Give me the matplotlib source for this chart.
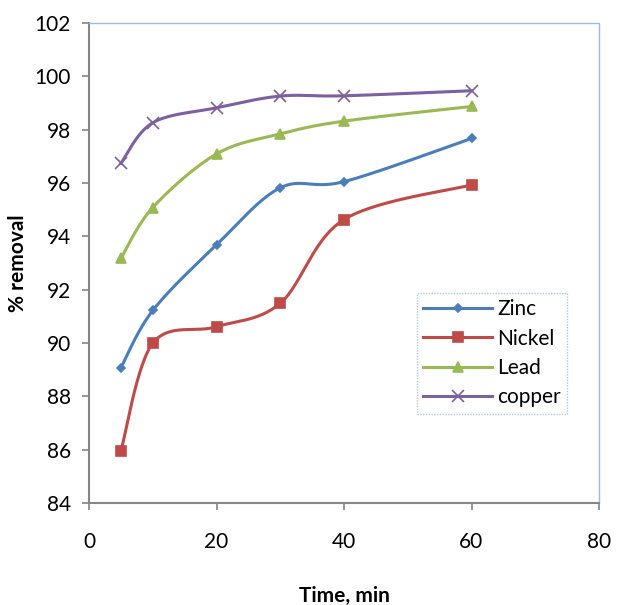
import numpy as np
import matplotlib.pyplot as plt

# data
time = [5, 10, 20, 30, 40, 60]
zinc = [89.07, 91.22, 93.68, 95.82, 96.05, 97.67]
nickel = [85.95, 89.99, 90.61, 91.49, 94.63, 95.93]
lead = [93.17, 95.08, 97.09, 97.84, 98.32, 98.87]
copper = [96.74, 98.26, 98.82, 99.26, 99.27, 99.46]

names = ['Zinc', 'Nickel', 'Lead', 'copper']
colors = ['#4A7EBB', '#BE4B48', '#98B954', '#7D60A0']
markers = ['D', 's', '^', 'x']
msizes = [4.5, 6.5, 6.5, 8]


def smooth(x, y, n=30):
    # Excel-style smoothed line (Catmull-Rom through the points)
    x = np.asarray(x, float)
    y = np.asarray(y, float)
    px = np.concatenate([[x[0]], x, [x[-1]]])
    py = np.concatenate([[y[0]], y, [y[-1]]])
    ox, oy = [], []
    t = np.linspace(0, 1, n)
    for i in range(1, len(px) - 2):
        c1x = px[i] + (px[i + 1] - px[i - 1]) / 6
        c1y = py[i] + (py[i + 1] - py[i - 1]) / 6
        c2x = px[i + 1] - (px[i + 2] - px[i]) / 6
        c2y = py[i + 1] - (py[i + 2] - py[i]) / 6
        b0 = (1 - t) ** 3
        b1 = 3 * (1 - t) ** 2 * t
        b2 = 3 * (1 - t) * t ** 2
        b3 = t ** 3
        ox.extend(b0 * px[i] + b1 * c1x + b2 * c2x + b3 * px[i + 1])
        oy.extend(b0 * py[i] + b1 * c1y + b2 * c2y + b3 * py[i + 1])
    return ox, oy


plt.rcParams['font.family'] = ['Lato', 'DejaVu Sans']

fig = plt.figure(figsize=(6.3, 6.05), dpi=100)
ax = fig.add_axes([89 / 630, 1 - 503 / 605, 510 / 630, 480 / 605])

for vals, name, c, m, ms in zip([zinc, nickel, lead, copper], names, colors, markers, msizes):
    sx, sy = smooth(time, vals)
    ax.plot(sx, sy, color=c, lw=2.2)
    ax.plot(time, vals, linestyle='none', marker=m, color=c, ms=ms, mew=1.2)
    ax.plot([], [], color=c, lw=2.2, marker=m, ms=ms, mew=1.2, label=name)

ax.set_xlim(0, 80)
ax.set_ylim(84, 102)
ax.set_xticks([0, 20, 40, 60, 80])
ax.set_yticks(np.arange(84, 103, 2))

for s in ['left', 'bottom']:
    ax.spines[s].set_color('#868686')
    ax.spines[s].set_linewidth(1.5)
for s in ['top', 'right']:
    ax.spines[s].set_color('#9DB9E0')
    ax.spines[s].set_linewidth(1.0)
    ax.spines[s].set_linestyle((0, (1, 1)))

ax.tick_params(axis='both', direction='out', length=5, width=1.2, color='#868686',
               labelsize=15, pad=8)
ax.tick_params(axis='x', pad=16)

ax.set_xlabel('Time, min', fontsize=15, fontweight='bold', labelpad=24)
ax.set_ylabel('% removal', fontsize=15, fontweight='bold')
ax.yaxis.set_label_coords(-0.139, 0.5)
ax.yaxis.label.set_verticalalignment('center')

leg = ax.legend(loc='upper left', bbox_to_anchor=((417 - 89) / 510, (503 - 293) / 480),
                fontsize=15, frameon=True, fancybox=False, handlelength=3.3,
                borderpad=0.3, labelspacing=0.45, handletextpad=0.25, borderaxespad=0)
leg.get_frame().set_edgecolor('#9DB9E0')
leg.get_frame().set_linestyle((0, (1, 1)))
leg.get_frame().set_linewidth(1.0)

fig.savefig('out.png', dpi=100)
